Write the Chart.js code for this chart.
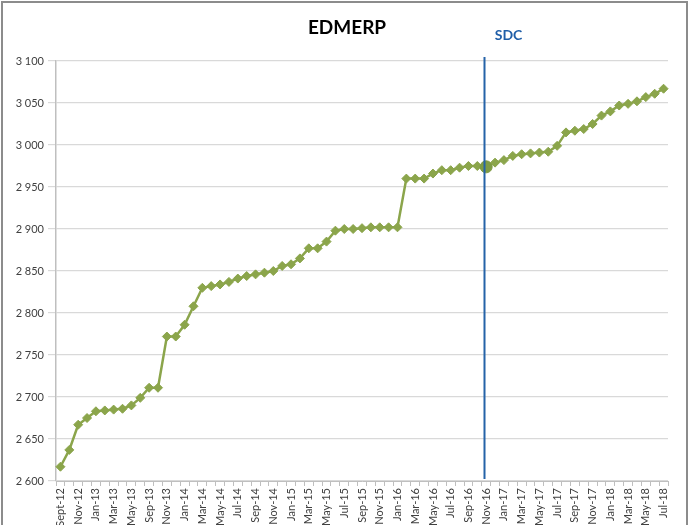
<!DOCTYPE html>
<html>
<head>
<meta charset="utf-8">
<script src="https://cdn.jsdelivr.net/npm/chart.js@4"></script>
<style>
  html, body { margin: 0; padding: 0; background: #fff; }
  #wrap { width: 690px; height: 525px; position: relative; }
</style>
</head>
<body>
<div id="wrap"><canvas id="c" width="690" height="525"></canvas></div>
<script>
const chartTitle = 'EDMERP';
const markerLabel = 'SDC';
const markerCategory = 'Nov-16';

const categories = [
  'Sept-12','Oct-12','Nov-12','Dec-12',
  'Jan-13','Feb-13','Mar-13','Apr-13','May-13','Jun-13','Sep-13','Oct-13','Nov-13','Dec-13',
  'Jan-14','Feb-14','Mar-14','Apr-14','May-14','Jun-14','Jul-14','Aug-14','Sep-14','Oct-14','Nov-14','Dec-14',
  'Jan-15','Feb-15','Mar-15','Apr-15','May-15','Jun-15','Jul-15','Aug-15','Sep-15','Oct-15','Nov-15','Dec-15',
  'Jan-16','Feb-16','Mar-16','Apr-16','May-16','Jun-16','Jul-16','Aug-16','Sep-16','Oct-16','Nov-16','Dec-16',
  'Jan-17','Feb-17','Mar-17','Apr-17','May-17','Jun-17','Jul-17','Aug-17','Sep-17','Oct-17','Nov-17','Dec-17',
  'Jan-18','Feb-18','Mar-18','Apr-18','May-18','Jun-18','Jul-18'
];

const values = [
  2617, 2637, 2667, 2675,
  2683, 2684, 2685, 2686, 2690, 2699, 2711, 2711, 2772, 2772,
  2786, 2808, 2830, 2832, 2834, 2837, 2841, 2844, 2846, 2848, 2850, 2856,
  2858, 2865, 2877, 2877, 2885, 2898, 2900, 2900, 2901, 2902, 2902, 2902,
  2902, 2960, 2960, 2960, 2966, 2970, 2970, 2973, 2975, 2975, 2974, 2979,
  2982, 2987, 2989, 2990, 2991, 2992, 2999, 3015, 3017, 3019, 3025, 3035,
  3040, 3047, 3049, 3052, 3057, 3061, 3067
];

const yTicks = [2600, 2650, 2700, 2750, 2800, 2850, 2900, 2950, 3000, 3050, 3100];

const FONT = 'Lato, "Liberation Sans", Arial, sans-serif';
const GREEN = '#8ba54b';
const BLUE = '#2563a8';
const markerIndex = categories.indexOf(markerCategory);

function fmtThousands(v) {
  const th = Math.floor(v / 1000);
  const rest = String(v % 1000).padStart(3, '0');
  return th + ' ' + rest;
}

const decor = {
  id: 'decor',
  beforeDraw(chart) {
    const ctx = chart.ctx;
    ctx.save();
    ctx.fillStyle = '#ffffff';
    ctx.fillRect(0, 0, chart.width, chart.height);
    ctx.strokeStyle = '#8c8c8c';
    ctx.lineWidth = 2;
    ctx.strokeRect(2, 2, 685, 540);
    ctx.fillStyle = '#000';
    ctx.font = 'bold 19px ' + FONT;
    ctx.textAlign = 'center';
    ctx.textBaseline = 'middle';
    ctx.fillText(chartTitle, 347, 28);
    ctx.restore();
  },
  afterDatasetsDraw(chart) {
    const ctx = chart.ctx;
    const xs = chart.scales.x;
    const x = Math.round(xs.getPixelForValue(markerIndex)) - 1.5;
    const area = chart.chartArea;
    ctx.save();
    ctx.strokeStyle = BLUE;
    ctx.lineWidth = 2;
    ctx.beginPath();
    ctx.moveTo(x, area.top - 4);
    ctx.lineTo(x, area.bottom - 2);
    ctx.stroke();
    ctx.fillStyle = '#1f5ea8';
    ctx.font = 'bold 14px ' + FONT;
    ctx.textAlign = 'center';
    ctx.textBaseline = 'middle';
    ctx.fillText(markerLabel, x + 24, 35);
    ctx.restore();
  }
};

new Chart(document.getElementById('c'), {
  type: 'line',
  data: {
    labels: categories,
    datasets: [{
      label: chartTitle,
      data: values,
      borderColor: GREEN,
      backgroundColor: GREEN,
      borderWidth: 2.5,
      tension: 0,
      pointStyle: (ctx) => ctx.dataIndex === markerIndex ? 'circle' : 'rectRot',
      pointRadius: (ctx) => ctx.dataIndex === markerIndex ? 6 : 4.5,
      pointBackgroundColor: (ctx) => ctx.dataIndex === markerIndex ? '#7f9b44' : GREEN,
      pointBorderColor: (ctx) => ctx.dataIndex === markerIndex ? '#7f9b44' : GREEN,
      pointBorderWidth: 1
    }]
  },
  options: {
    responsive: false,
    animation: false,
    devicePixelRatio: 1,
    layout: { padding: { top: 61, right: 22, bottom: 0, left: 0 } },
    plugins: {
      legend: { display: false },
      title: { display: false },
      tooltip: { enabled: false }
    },
    scales: {
      x: {
        type: 'category',
        offset: true,
        afterFit(scale) { scale.height = 44; },
        grid: {
          offset: true,
          drawOnChartArea: false,
          drawTicks: true,
          tickLength: 5,
          tickColor: '#bfbfbf'
        },
        border: { color: '#bfbfbf', width: 1 },
        ticks: {
          autoSkip: false,
          maxRotation: 90,
          minRotation: 90,
          padding: 2,
          color: '#404040',
          font: { family: FONT, size: 11 },
          callback(value, index) { return index % 2 === 0 ? categories[index] : ''; }
        }
      },
      y: {
        min: yTicks[0],
        max: yTicks[yTicks.length - 1],
        afterFit(scale) { scale.width = 56; },
        afterBuildTicks(scale) { scale.ticks = yTicks.map(v => ({ value: v })); },
        grid: {
          color: '#d9d9d9',
          lineWidth: 1.2,
          tickLength: 8,
          tickColor: '#d9d9d9'
        },
        border: { color: '#bfbfbf', width: 1.5 },
        ticks: {
          padding: 4,
          color: '#404040',
          font: { family: FONT, size: 11 },
          callback(value) { return fmtThousands(value); }
        }
      }
    }
  },
  plugins: [decor]
});
</script>
</body>
</html>
